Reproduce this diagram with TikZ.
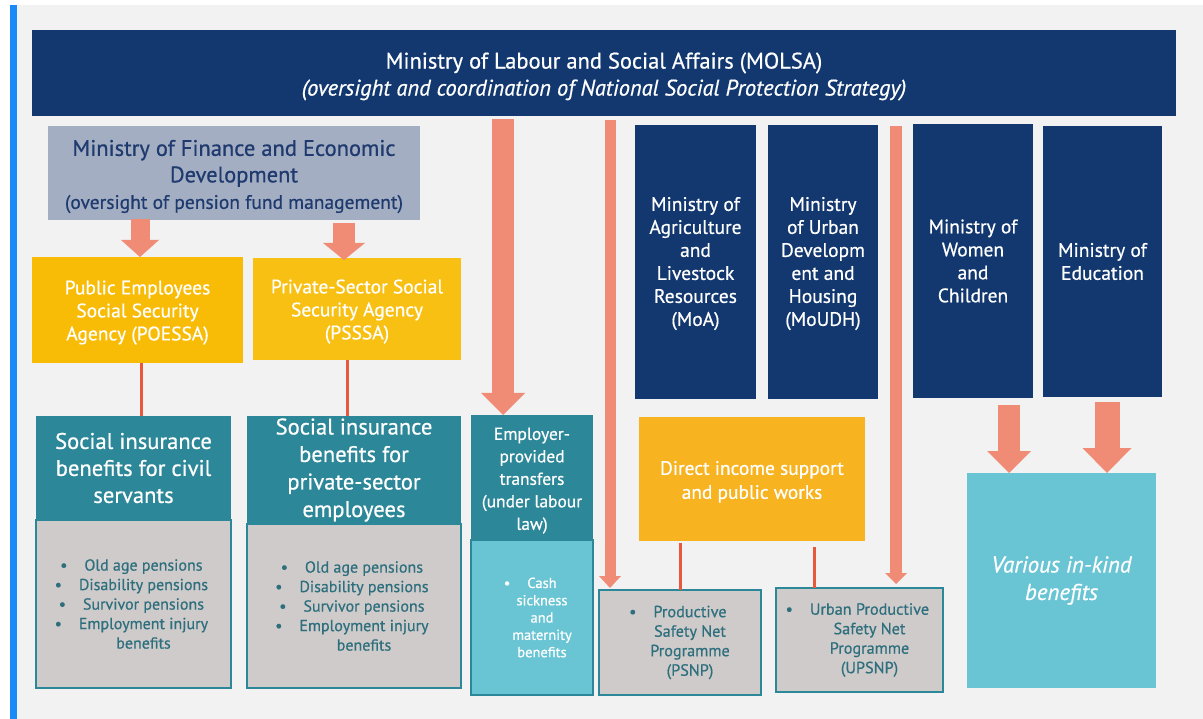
\documentclass[tikz,border=0pt]{standalone}
\usepackage{fontspec}
\setmainfont{PT Sans}[FakeBold=0.6]
\usetikzlibrary{arrows.meta}
\definecolor{navy}{HTML}{12386F}
\definecolor{mofc}{HTML}{A3AEC2}
\definecolor{moftext}{HTML}{1E3A6E}
\definecolor{yel}{HTML}{F8BC06}
\definecolor{yeltwo}{HTML}{F8C012}
\definecolor{gold}{HTML}{F7B320}
\definecolor{teal}{HTML}{2C8798}
\definecolor{greyb}{HTML}{CFCBCA}
\definecolor{cyanb}{HTML}{69C5D4}
\definecolor{salmon}{HTML}{F08B75}
\definecolor{redl}{HTML}{E8583C}
\definecolor{bg}{HTML}{F2F2F2}
\definecolor{bluebar}{HTML}{1A8AF8}
\definecolor{gtext}{HTML}{2E6F7E}
\newcommand\fsz[2]{\fontsize{#1}{#2}\selectfont}
\newcommand\bul{\llap{\textbullet\hspace{17pt}}}
\newcommand\tup[1]{\rule{0pt}{#1pt}}
\tikzset{
 box/.style={rectangle, inner sep=0pt, outer sep=0pt, anchor=north west, align=center},
 blk/.style n args={3}{draw=salmon, line width=#1pt, -{Triangle[width=#2pt,length=#3pt,line width=0pt]}},
 link/.style={draw=redl, line width=3pt},
 lbl/.style={inner sep=0pt, align=center},
}
\begin{document}
\begin{tikzpicture}[x=1pt,y=-1pt]
\useasboundingbox (0,0) rectangle (1203,719);
\fill[white] (0,0) rectangle (1203,719);
\fill[bg] (17,5) rectangle (1203,719);
\fill[bluebar] (10,5) rectangle (17,719);

% top
\node[box, fill=navy, text=white, minimum width=1144pt, minimum height=86pt, font=\fsz{22.5}{27}] (molsa) at (32,30)
 {\tup{23}Ministry of Labour and Social Affairs (MOLSA)\\ {\itshape (oversight and coordination of National Social Protection Strategy)}};
\node[box, fill=mofc, text=moftext, minimum width=372pt, minimum height=94pt, font=\fsz{22.5}{26.5}] (mof) at (48,126)
 {\tup{23}Ministry of Finance and Economic\\ Development\\ {\fsz{19.5}{25}(oversight of pension fund management)}};

% agencies
\node[box, fill=yel, text=white, minimum width=211pt, minimum height=106pt, font=\fsz{19.5}{23}] (poessa) at (32,257)
 {\tup{19}Public Employees\\ Social Security\\ Agency (POESSA)};
\node[box, fill=yeltwo, text=white, minimum width=208pt, minimum height=102pt, font=\fsz{19.5}{23}] (psssa) at (253,258)
 {\tup{19}Private-Sector Social\\ Security Agency\\ (PSSSA)};

% social insurance
\node[box, fill=teal, text=white, minimum width=195pt, minimum height=104pt, font=\fsz{22.6}{27}] (si1) at (36,416)
 {Social insurance\\ benefits for civil\\ servants};
\node[box, fill=greyb, draw=teal, line width=2pt, minimum width=195pt, minimum height=168pt] (g1) at (36,520) {};
\node[lbl, text=gtext, font=\fsz{16}{19.5}] (g1t) at ([xshift=10pt]g1.center)
 {\bul Old age pensions\\ \bul Disability pensions\\ \bul Survivor pensions\\ \bul Employment injury\\ benefits};

\node[box, fill=teal, text=white, minimum width=214pt, minimum height=108pt, font=\fsz{22.6}{27.5}] (si2) at (247,416)
 {Social insurance\\ benefits for\\ private-sector\\ employees};
\node[box, fill=greyb, draw=teal, line width=2pt, minimum width=214pt, minimum height=164pt] (g2) at (247,524) {};
\node[lbl, text=gtext, font=\fsz{16}{19.5}] (g2t) at ([xshift=10pt]g2.center)
 {\bul Old age pensions\\ \bul Disability pensions\\ \bul Survivor pensions\\ \bul Employment injury\\ benefits};

% employer
\node[box, fill=teal, text=white, minimum width=122pt, minimum height=125pt, font=\fsz{17.4}{22.5}] (emp) at (471,415)
 {\tup{18.5}Employer-\\ provided\\ transfers\\ (under labour\\ law)};
\node[box, fill=cyanb, draw=teal, line width=2pt, minimum width=122pt, minimum height=155pt] (cash) at (471,540) {};
\node[lbl, text=white, font=\fsz{14.5}{17.3}] (casht) at ([xshift=10pt]cash.center)
 {\bul Cash\\ sickness\\ and\\ maternity\\ benefits};

% ministries
\node[box, fill=navy, text=white, minimum width=121pt, minimum height=274pt, font=\fsz{19.5}{23}] (moa) at (635,125)
 {\tup{17}Ministry of\\ Agriculture\\ and\\ Livestock\\ Resources\\ (MoA)};
\node[box, fill=navy, text=white, minimum width=110pt, minimum height=274pt, font=\fsz{19.5}{23}] (moudh) at (768,125)
 {\tup{17}Ministry\\ of Urban\\ Developm\\ ent and\\ Housing\\ (MoUDH)};
\node[box, fill=navy, text=white, minimum width=120pt, minimum height=274pt, font=\fsz{19.5}{23}] (women) at (913,124)
 {Ministry of\\ Women\\ and\\ Children};
\node[box, fill=navy, text=white, minimum width=119pt, minimum height=271pt, font=\fsz{19.5}{23}] (edu) at (1043,126)
 {Ministry of\\ Education};

% direct income
\node[box, fill=gold, text=white, minimum width=226pt, minimum height=124pt, font=\fsz{19.4}{24}] (direct) at (639,417)
 {\tup{19.5}Direct income support\\ and public works};
\node[box, fill=greyb, draw=teal, line width=2pt, minimum width=162pt, minimum height=105pt] (psnp) at (599,590) {};
\node[lbl, text=gtext, font=\fsz{16.2}{19.5}] (psnpt) at ([xshift=10pt]psnp.center)
 {\bul Productive\\ Safety Net\\ Programme\\ (PSNP)};
\node[box, fill=greyb, draw=teal, line width=2pt, minimum width=167pt, minimum height=104pt] (upsnp) at (776,588) {};
\node[lbl, text=gtext, font=\fsz{16.2}{19.5}] (upsnpt) at ([xshift=10pt]upsnp.center)
 {\bul Urban Productive\\ Safety Net\\ Programme\\ (UPSNP)};

% in-kind
\node[box, fill=cyanb, text=white, minimum width=189pt, minimum height=215pt, font=\fsz{22.9}{27.5}\itshape] (inkind) at (967,473)
 {Various in-kind\\ benefits};

% block arrows
\draw[blk={19}{38}{17}, shorten <=-1pt] ([xshift=2.5pt]poessa.north |- mof.south) -- ([xshift=2.5pt]poessa.north);
\draw[blk={22}{42}{17}, shorten <=3pt, shorten >=-2pt] ([xshift=-13pt]psssa.north |- mof.south) -- ([xshift=-13pt]psssa.north);
\draw[blk={22}{44}{22}, shorten <=3pt] ([xshift=-29pt]emp.north |- molsa.south) -- ([xshift=-29pt]emp.north);
\draw[blk={11}{22}{12}, shorten <=4pt, shorten >=2pt] ([xshift=-70pt]psnp.north |- molsa.south) -- ([xshift=-70pt]psnp.north);
\draw[blk={12}{22}{11}, shorten <=10pt, shorten >=4pt] ([xshift=36.5pt]upsnp.north |- molsa.south) -- ([xshift=36.5pt]upsnp.north);
\draw[blk={22}{44}{22}, shorten <=7pt] ([xshift=36pt]women.south) -- ([xshift=36pt]women.south |- inkind.north);
\draw[blk={25}{49}{25}, shorten <=5pt] ([xshift=4.5pt]edu.south) -- ([xshift=4.5pt]edu.south |- inkind.north);

% links
\draw[link] ([xshift=3.5pt]poessa.south) -- ([xshift=3.5pt]poessa.south |- si1.north);
\draw[link] ([xshift=-10pt]psssa.south) -- ([xshift=-10pt]psssa.south |- si2.north);
\draw[link, shorten <=2pt] (psnp.north |- direct.south) -- (psnp.north);
\draw[link, shorten <=6pt] ([xshift=-45.5pt]upsnp.north |- direct.south) -- ([xshift=-45.5pt]upsnp.north);
\end{tikzpicture}
\end{document}
